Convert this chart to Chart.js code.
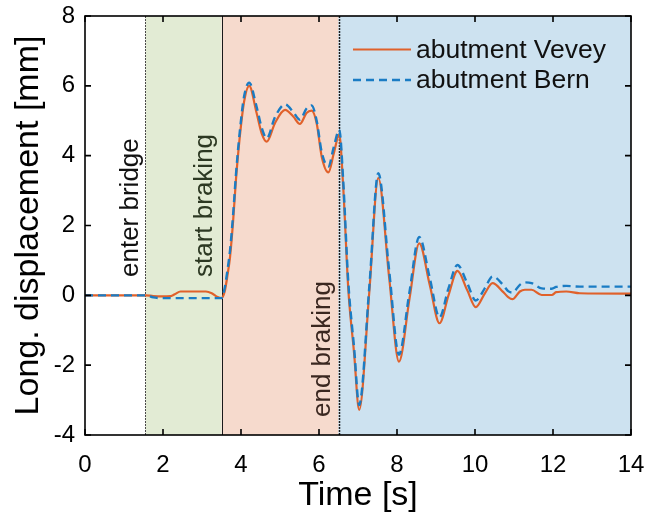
<!DOCTYPE html>
<html>
<head>
<meta charset="utf-8">
<title>Abutment displacement during braking</title>
<script src="https://cdn.jsdelivr.net/npm/chart.js@4.4.1/dist/chart.umd.min.js"></script>
<style>
  html, body { margin: 0; padding: 0; background: #ffffff; }
  canvas { display: block; }
</style>
</head>
<body>
<canvas id="c" width="648" height="517"></canvas>
<script>
// Time samples [s]
const timeS = [
  0, 1.55, 1.75, 1.95, 2.2, 2.3, 2.45, 3.1, 3.25, 3.4, 3.5,
  3.58, 3.65, 3.72, 3.8, 3.87, 3.97, 4.08, 4.21, 4.4, 4.53, 4.66, 4.87,
  5.13, 5.34, 5.51, 5.68, 5.81, 5.94, 6.07, 6.24, 6.38, 6.52,
  6.62, 6.75, 6.9, 7.03, 7.29, 7.52, 7.8, 8.05, 8.32, 8.57, 8.84,
  9.09, 9.32, 9.55, 9.8, 10.02, 10.25, 10.45, 10.72, 10.85, 10.96,
  11.15, 11.28, 11.45, 11.71, 11.97, 12.08, 12.34, 12.69, 14
];
// Longitudinal displacement, abutment Vevey [mm]
const veveyMm = [
  0, 0, -0.02, -0.03, -0.02, 0.03, 0.11, 0.11, 0.06, -0.05, -0.08,
  0.1, 0.55, 1.11, 2.16, 3.3, 4.55, 5.55, 6.0, 5.22, 4.64, 4.4, 4.93,
  5.31, 5.12, 4.91, 5.22, 5.29, 4.93, 3.97, 3.52, 4.07, 4.6,
  3.12, 0.2, -1.66, -3.28, 0.1, 3.36, 0.5, -1.9, -0.1, 1.49, 0.3,
  -0.8, 0.0, 0.7, 0.15, -0.34, 0.05, 0.35, 0.1, -0.05, -0.11,
  0.11, 0.16, 0.16, 0.01, 0.01, 0.09, 0.11, 0.06, 0.05
];
// Longitudinal displacement, abutment Bern [mm]
const bernMm = [
  0, 0, -0.06, -0.08, -0.08, -0.08, -0.08, -0.08, -0.08, -0.08, -0.08,
  0.2, 0.7, 1.3, 2.35, 3.45, 4.7, 5.7, 6.09, 5.4, 4.8, 4.5, 5.1,
  5.47, 5.25, 5.03, 5.35, 5.44, 5.0, 4.1, 3.69, 4.25, 4.74,
  3.3, 0.4, -1.5, -3.14, 0.25, 3.5, 0.7, -1.7, 0.1, 1.67, 0.5,
  -0.63, 0.2, 0.87, 0.35, -0.15, 0.2, 0.54, 0.3, 0.12, 0.08,
  0.3, 0.37, 0.35, 0.2, 0.19, 0.24, 0.27, 0.25, 0.25
];

// Test phases: boundaries [s], shading and annotation
const phaseStart = [1.55, 3.5, 6.5];
const phaseEnd = [3.5, 6.5, 14];
const phaseFill = ['#e2ebd4', '#f6dacd', '#cde2f0'];
const eventLabels = ['enter bridge', 'start braking', 'end braking'];
const eventTimes = [1.55, 3.5, 6.5];

const FONT = "'Liberation Sans', Arial, Helvetica, sans-serif";

const pts = (vals) => timeS.map((t, i) => ({ x: t, y: vals[i] }));

const phasesPlugin = {
  id: 'phases',
  beforeDatasetsDraw(chart) {
    const { ctx, chartArea: a, scales: { x } } = chart;
    ctx.save();
    for (let i = 0; i < phaseStart.length; i++) {
      const x0 = x.getPixelForValue(phaseStart[i]);
      const x1 = x.getPixelForValue(phaseEnd[i]);
      ctx.fillStyle = phaseFill[i];
      ctx.fillRect(x0, a.top, x1 - x0, a.bottom - a.top);
    }
    // phase boundary lines
    const styles = [
      { c: '#4a4a4a', w: 1, d: [2, 1] },
      { c: '#1a1a1a', w: 1, d: [] },
      { c: '#1a1a1a', w: 1.5, d: [2, 1] }
    ];
    eventTimes.forEach((t, i) => {
      const px = Math.round(x.getPixelForValue(t)) + 0.5;
      ctx.strokeStyle = styles[i].c;
      ctx.lineWidth = styles[i].w;
      ctx.setLineDash(styles[i].d);
      ctx.beginPath();
      ctx.moveTo(px, a.top);
      ctx.lineTo(px, a.bottom);
      ctx.stroke();
    });
    ctx.setLineDash([]);
    // rotated event labels
    const labelPos = [
      { bx: 137.5, by: 277, c: '#111111' },
      { bx: 212, by: 277, c: '#2c3822' },
      { bx: 330, by: 417, c: '#3a2720' }
    ];
    ctx.font = '26px ' + FONT;
    ctx.textAlign = 'left';
    ctx.textBaseline = 'alphabetic';
    eventLabels.forEach((txt, i) => {
      ctx.save();
      ctx.translate(labelPos[i].bx, labelPos[i].by);
      ctx.rotate(-Math.PI / 2);
      ctx.fillStyle = labelPos[i].c;
      ctx.fillText(txt, 0, 0);
      ctx.restore();
    });
    ctx.restore();
  },
  afterDatasetsDraw(chart) {
    const { ctx, chartArea: a, scales: { x, y } } = chart;
    ctx.save();
    // axes box
    ctx.strokeStyle = '#000';
    ctx.lineWidth = 1.6;
    ctx.strokeRect(a.left, a.top, a.right - a.left, a.bottom - a.top);
    // inward ticks on all four sides
    const tl = 6;
    ctx.lineWidth = 1.6;
    ctx.beginPath();
    x.ticks.forEach(tk => {
      const px = x.getPixelForValue(tk.value);
      ctx.moveTo(px, a.bottom); ctx.lineTo(px, a.bottom - tl);
      ctx.moveTo(px, a.top); ctx.lineTo(px, a.top + tl);
    });
    y.ticks.forEach(tk => {
      const py = y.getPixelForValue(tk.value);
      ctx.moveTo(a.left, py); ctx.lineTo(a.left + tl, py);
      ctx.moveTo(a.right, py); ctx.lineTo(a.right - tl, py);
    });
    ctx.stroke();
    // legend
    const items = chart.data.datasets;
    const rows = [49.5, 80];
    ctx.font = '26.5px ' + FONT;
    ctx.textAlign = 'left';
    ctx.textBaseline = 'middle';
    items.forEach((ds, i) => {
      ctx.strokeStyle = ds.borderColor;
      ctx.lineWidth = ds.borderWidth;
      ctx.setLineDash(ds.borderDash || []);
      ctx.beginPath();
      ctx.moveTo(353, rows[i]);
      ctx.lineTo(411, rows[i]);
      ctx.stroke();
      ctx.setLineDash([]);
      ctx.fillStyle = '#111';
      ctx.fillText(ds.label, 416, rows[i] + 1);
    });
    ctx.restore();
  }
};

new Chart(document.getElementById('c'), {
  type: 'line',
  data: {
    datasets: [
      {
        label: 'abutment Vevey',
        data: pts(veveyMm),
        borderColor: '#e0612b',
        borderWidth: 2.2,
        pointRadius: 0,
        cubicInterpolationMode: 'monotone',
        order: 1
      },
      {
        label: 'abutment Bern',
        data: pts(bernMm),
        borderColor: '#1a7cc4',
        borderWidth: 2.4,
        borderDash: [8, 5],
        pointRadius: 0,
        cubicInterpolationMode: 'monotone',
        order: 0
      }
    ]
  },
  options: {
    responsive: false,
    animation: false,
    devicePixelRatio: 1,
    layout: { padding: { top: 16, right: 17, left: 0, bottom: 0 } },
    plugins: { legend: { display: false }, tooltip: { enabled: false } },
    scales: {
      x: {
        type: 'linear',
        min: 0, max: 14,
        grid: { display: false, drawTicks: false },
        border: { display: false },
        ticks: { stepSize: 2, color: '#000', padding: 16, font: { family: FONT, size: 24 } },
        title: { display: true, text: 'Time [s]', color: '#000', padding: { top: 0, bottom: 1 }, font: { family: FONT, size: 34 } },
        afterFit: (s) => { s.height = 82; s.paddingLeft = 0; s.paddingRight = 0; }
      },
      y: {
        type: 'linear',
        min: -4, max: 8,
        grid: { display: false, drawTicks: false },
        border: { display: false },
        ticks: { stepSize: 2, color: '#000', padding: 10, font: { family: FONT, size: 24 } },
        title: { display: true, text: 'Long. displacement [mm]', color: '#000', padding: { top: 8, bottom: 0 }, font: { family: FONT, size: 34 } },
        afterFit: (s) => { s.width = 85; s.paddingTop = 0; s.paddingBottom = 0; }
      }
    }
  },
  plugins: [phasesPlugin]
});
</script>
</body>
</html>
